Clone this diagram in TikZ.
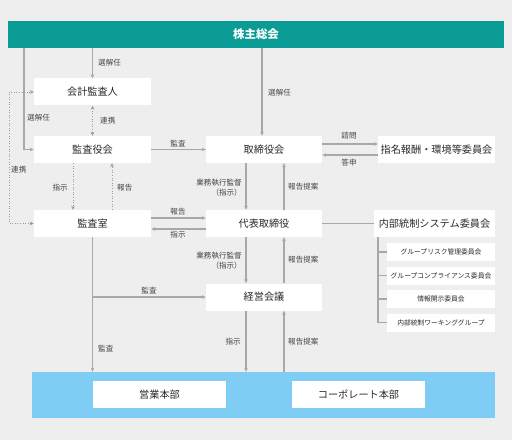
\documentclass[tikz,border=0pt]{standalone}
\usepackage{fontspec}
\setmainfont{Noto Sans CJK JP}
\usetikzlibrary{arrows.meta}
\definecolor{bgc}{HTML}{EEEEEE}
\definecolor{teal0}{HTML}{0A9B94}
\definecolor{bandc}{HTML}{7FCDF4}
\definecolor{lc}{HTML}{A8A8A8}
\definecolor{dc}{HTML}{9A9A9A}
\definecolor{tc}{HTML}{2A2A2A}
\definecolor{lbl}{HTML}{444444}
\begin{document}
\begin{tikzpicture}[x=1bp,y=-1bp,
  box/.style={fill=white,draw=none,minimum width=117bp,minimum height=27bp,inner sep=0pt,text=tc,font=\fontsize{10.2}{12}\selectfont},
  subbox/.style={fill=white,draw=none,minimum width=108bp,minimum height=18bp,inner sep=0pt,text=tc,font=\fontsize{6.8}{8}\selectfont},
  lab/.style={text=lbl,inner sep=0pt,font=\fontsize{7.6}{10}\selectfont},
  arr/.style={draw=lc,line width=1.1bp,-{Stealth[length=4bp,width=3.6bp]}},
  plain/.style={draw=lc,line width=1.1bp},
  dotarr/.style={draw=dc,line width=0.9bp,dash pattern=on 1bp off 1.6bp,{Stealth[length=4bp,width=3.6bp]}-{Stealth[length=4bp,width=3.6bp]}},
  dotone/.style={draw=dc,line width=0.9bp,dash pattern=on 1bp off 1.6bp,-{Stealth[length=4bp,width=3.6bp]}}
]
\fill[bgc] (0,0) rectangle (512,440);
\useasboundingbox (0,0) rectangle (512,440);

% top bar
\node[fill=teal0,minimum width=496bp,minimum height=27bp,inner sep=0pt,text=white,font=\fontsize{11.5}{12}\selectfont\bfseries] (top) at (256,34.5) {株主総会};

% bottom band
\node[fill=bandc,minimum width=463bp,minimum height=46bp,inner sep=0pt] (band) at (263.5,395) {};
\node[box,minimum width=133bp] (eigyo) at (159.5,394.5) {営業本部};
\node[box,minimum width=133bp] (corp) at (358.5,394.5) {コーポレート本部};

% boxes
\node[box] (kaikei) at (92.5,92) {会計監査人};
\node[box] (kansayaku) at (92.5,149.5) {監査役会};
\node[box] (kansashitsu) at (92.5,223.5) {監査室};
\node[box,minimum width=116bp] (tori) at (264,149.5) {取締役会};
\node[box,minimum width=116bp] (daihyo) at (264,223.5) {代表取締役};
\node[box,minimum width=116bp] (keiei) at (264,297) {経営会議};
\node[box] (shimei) at (436.5,149.5) {指名報酬・環境等委員会};
\node[box,minimum width=121bp] (naibu) at (434.5,223.5) {内部統制システム委員会};
\node[subbox] (sub1) at (441,252) {グループリスク管理委員会};
\node[subbox] (sub2) at (441,275.5) {グループコンプライアンス委員会};
\node[subbox] (sub3) at (441,299) {情報開示委員会};
\node[subbox] (sub4) at (441,322.5) {内部統制ワーキンググループ};

% helper coordinates
\coordinate (xL) at (24,0);
\coordinate (xD) at (9,0);
\coordinate (xA) at (73,0);
\coordinate (xB) at (112,0);
\coordinate (xT) at (262,0);
\coordinate (xC) at (246,0);
\coordinate (xE) at (284,0);
\coordinate (xBr) at (378,0);
\coordinate (y1) at (0,144);
\coordinate (y2) at (0,155);
\coordinate (y3) at (0,218);
\coordinate (y4) at (0,229);

% shareholders connectors
\draw[arr] (top.south -| xL) |- (kansayaku.west);
\node[lab,anchor=west] (l1) at (27,118) {選解任};
\draw[arr] (top.south -| kaikei.north) -- (kaikei.north);
\node[lab,anchor=west] (l2) at (98,63) {選解任};
\draw[arr] (top.south -| xT) -- (tori.north -| xT);
\node[lab,anchor=west] (l3) at (268,93) {選解任};

% auditor links
\draw[dotarr] (kaikei.south) -- (kansayaku.north);
\node[lab,anchor=west] (l4) at (100,121) {連携};
\draw[dotarr] (kansashitsu.west) -- (kansashitsu.west -| xD) -- (kaikei.west -| xD) -- (kaikei.west);
\node[lab,anchor=west] (l5) at (11,170) {連携};
\draw[dotone] (kansayaku.south -| xA) -- (kansashitsu.north -| xA);
\node[lab,anchor=east] (l6) at (68,188) {指示};
\draw[dotone] (kansashitsu.north -| xB) -- (kansayaku.south -| xB);
\node[lab,anchor=west] (l7) at (117,188) {報告};

% board
\draw[arr] (kansayaku.east) -- (tori.west);
\node[lab] (l8) at (178,144) {監査};
\draw[arr] (tori.east |- y1) -- (shimei.west |- y1);
\node[lab] (l9) at (349,136) {諮問};
\draw[arr] (shimei.west |- y2) -- (tori.east |- y2);
\node[lab] (l10) at (349,163) {答申};

\draw[arr] (tori.south -| xC) -- (daihyo.north -| xC);
\node[lab,anchor=east,align=right] (l11) at (242,187.5) {業務執行監督\\（指示）};
\draw[arr] (daihyo.north -| xE) -- (tori.south -| xE);
\node[lab,anchor=west] (l12) at (288,187) {報告提案};

\draw[arr] (kansashitsu.east |- y3) -- (daihyo.west |- y3);
\node[lab] (l13) at (178,212) {報告};
\draw[arr] (daihyo.west |- y4) -- (kansashitsu.east |- y4);
\node[lab] (l14) at (178,235) {指示};

\draw[plain] (daihyo.east) -- (naibu.west);
\draw[plain] (naibu.south -| xBr) |- (sub4.west);
\draw[plain] (sub1.west -| xBr) -- (sub1.west);
\draw[plain] (sub2.west -| xBr) -- (sub2.west);
\draw[plain] (sub3.west -| xBr) -- (sub3.west);

\draw[arr] (daihyo.south -| xC) -- (keiei.north -| xC);
\node[lab,anchor=east,align=right] (l15) at (242,261) {業務執行監督\\（指示）};
\draw[arr] (keiei.north -| xE) -- (daihyo.south -| xE);
\node[lab,anchor=west] (l16) at (288,260) {報告提案};

% audit to operations
\draw[arr] (kansashitsu.south) -- (kansashitsu.south |- band.north);
\node[lab,anchor=west] (l17) at (98,349) {監査};
\draw[arr] (kansashitsu.south |- keiei.west) -- (keiei.west);
\node[lab] (l18) at (149,291) {監査};

\draw[arr] (keiei.south -| xC) -- (band.north -| xC);
\node[lab,anchor=east] (l19) at (241,342) {指示};
\draw[arr] (band.north -| xE) -- (keiei.south -| xE);
\node[lab,anchor=west] (l20) at (288,342) {報告提案};
\end{tikzpicture}
\end{document}
